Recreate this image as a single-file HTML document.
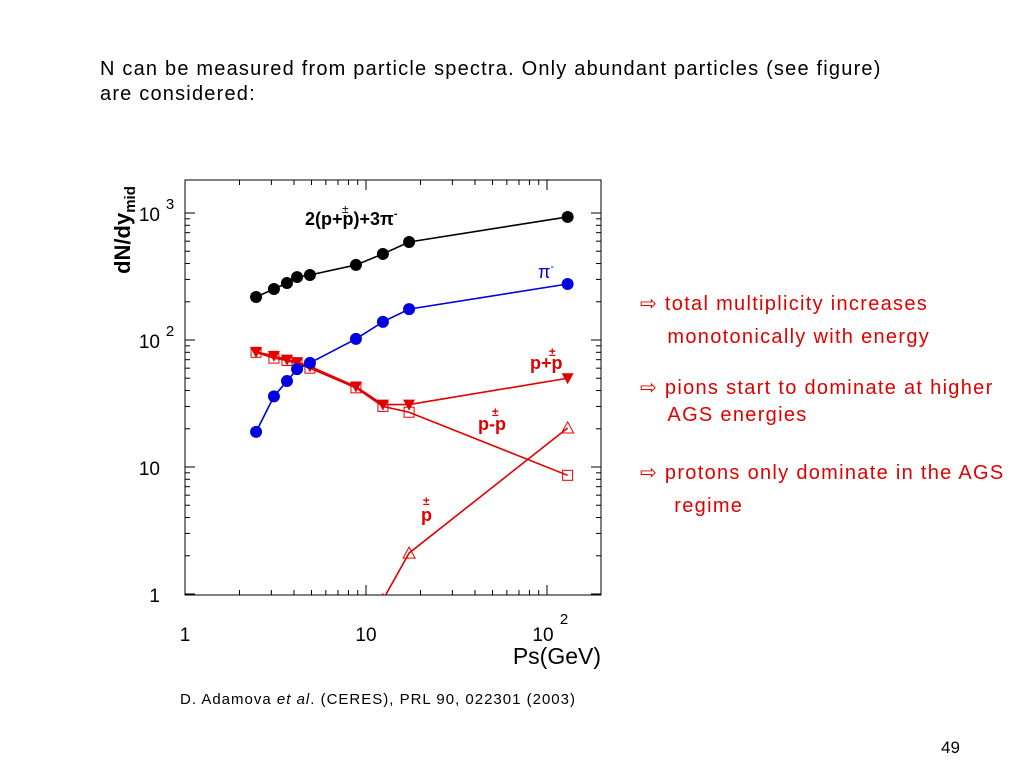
<!DOCTYPE html>
<html><head><meta charset="utf-8"><style>
body{margin:0;width:1024px;height:768px;background:#fff;font-family:"Liberation Sans",sans-serif;overflow:hidden;position:relative}
.t{position:absolute;white-space:nowrap}
.red{color:#e00000;font-size:20px;letter-spacing:1.3px}
</style></head><body>
<div class="t" style="left:100px;top:57px;font-size:20px;letter-spacing:1.2px;line-height:25px">N can be measured from particle spectra. Only abundant particles (see figure)<br>are considered:</div>
<div class="t red" style="left:640px;top:288px;line-height:33px">⇨ total multiplicity increases<br>&nbsp;&nbsp;&nbsp;&nbsp;monotonically with energy</div>
<div class="t red" style="left:640px;top:375px;line-height:27px">⇨ pions start to dominate at higher<br>&nbsp;&nbsp;&nbsp;&nbsp;AGS energies</div>
<div class="t red" style="left:640px;top:457px;line-height:33px">⇨ protons only dominate in the AGS<br>&nbsp;&nbsp;&nbsp;&nbsp;&nbsp;regime</div>
<div class="t" style="left:180px;top:691px;font-size:15px;letter-spacing:1px">D. Adamova <i>et al</i>. (CERES), PRL 90, 022301 (2003)</div>
<div class="t" style="left:941px;top:738px;font-size:17px">49</div>
<svg id="chart" width="1024" height="768" style="position:absolute;left:0;top:0">
<defs><clipPath id="clip"><rect x="185" y="180" width="416" height="415"/></clipPath></defs>
</svg>
<script>
const energies=[2.47,3.1,3.66,4.16,4.9,8.8,12.4,17.3,130];
const total=[218,252,281,313,325,390,476,591,931];
const piMinus=[18.9,36,47.5,59,66,102,139,175,276];
const pPlusPbar=[80.5,75,70,67,62,43,31,31,50];
const pMinusPbar=[80,72,69,65,60,42,30,27,8.6];
const pbarE=[12.4,17.3,130];
const pbarV=[0.9,2.1,20.3];
const xTicks=["1","10","10"];
const yTicks=["1","10","10","10"];
const NS="http://www.w3.org/2000/svg";
const svg=document.getElementById('chart');
const X0=185,XD=181,Y0=594,YD=127;
const xs=v=>X0+Math.log10(v)*XD, ys=v=>Y0-Math.log10(v)*YD;
function mk(t,a,p){const e=document.createElementNS(NS,t);for(const k in a)e.setAttribute(k,a[k]);(p||svg).appendChild(e);return e;}
const frame=mk('rect',{x:185,y:180,width:416,height:415,fill:'none',stroke:'#000','stroke-width':1});


for(let d=0;d<3;d++)for(let m=1;m<10;m++){const v=m*Math.pow(10,d);const x=xs(v);if(x>601)break;const L=m==1?10:5;
mk('line',{x1:x,x2:x,y1:595,y2:595-L,stroke:'#000'});mk('line',{x1:x,x2:x,y1:180,y2:180+L,stroke:'#000'});}
for(let d=0;d<4;d++)for(let m=1;m<10;m++){const v=m*Math.pow(10,d);const y=ys(v);if(y<180)break;const L=m==1?10:5;
mk('line',{x1:185,x2:185+L,y1:y,y2:y,stroke:'#000'});mk('line',{x1:601,x2:601-L,y1:y,y2:y,stroke:'#000'});}
function txt(s,x,y,sz,a,col,name){const t=mk('text',{x:x,y:y,'font-size':sz,'text-anchor':a||'start',fill:col||'#000','font-family':'Liberation Sans, sans-serif'});t.textContent=s;

return t;}
[1,10,100].forEach((v,i)=>{txt(xTicks[i],xs(v)+(i==2?-4:0),641,19,'middle','#000','x-tick-label');if(i==2)txt('2',xs(v)+17,624,15,'middle','#000','x-tick-exp');});
[1,10,100,1000].forEach((v,i)=>{txt(yTicks[i],160,ys(v)+8,19,'end','#000','y-tick-label');if(i>=2)txt(String(i),170,ys(v)-4,15,'middle','#000','y-tick-exp');});
txt('Ps(GeV)',601,664,23,'end','#000','x-axis-title');
const yt=txt('',0,0,22,'middle','#000','y-axis-title');yt.setAttribute('transform','translate(130,230) rotate(-90)');yt.setAttribute('font-weight','bold');
yt.innerHTML='dN/dy<tspan font-size="15" dy="5">mid</tspan>';
const g=mk('g',{'clip-path':'url(#clip)'});
function series(vals,E,col,marker,name){
 const pts=vals.map((v,i)=>xs(E[i])+','+ys(v)).join(' ');
 const pl=mk('polyline',{points:pts,fill:'none',stroke:col,'stroke-width':1.6},g);
 
 
 vals.forEach((v,i)=>{const x=xs(E[i]),y=ys(v);let m;
  if(marker=='circle')m=mk('circle',{cx:x,cy:y,r:6,fill:col},g);
  else if(marker=='tridown')m=mk('polygon',{points:`${x-6},${y-5} ${x+6},${y-5} ${x},${y+6}`,fill:col},g);
  else if(marker=='square')m=mk('rect',{x:x-5,y:y-5,width:10,height:10,fill:'none',stroke:col},g);
  else m=mk('polygon',{points:`${x-6},${y+5} ${x+6},${y+5} ${x},${y-6}`,fill:'none',stroke:col},g);
  
  });
}
series(pMinusPbar,energies,'#e00000','square','p-minus-pbar');
series(pPlusPbar,energies,'#e00000','tridown','p-plus-pbar');
series(piMinus,energies,'#0000e0','circle','pi-minus');
series(total,energies,'#000','circle','total');
series(pbarV,pbarE,'#e00000','triup','pbar');
const l1=txt('',305,225,18,'start','#000','label-total');l1.setAttribute('font-weight','bold');l1.innerHTML='2(p+p)+3π<tspan font-size="11" dy="-8">-</tspan>';
txt('±',342,213,12,'start','#000','label-pm');
const l2=txt('',538,278,18,'start','#0000e0','label-pi-minus');l2.innerHTML='π<tspan font-size="11" dy="-8">-</tspan>';
const b=[];
b.push(txt('±',549,356,12,'start','#e00000','label-pm'));b.push(txt('p+p',530,369,18,'start','#e00000','label-p-plus-pbar'));
b.push(txt('±',492,416,12,'start','#e00000','label-pm'));b.push(txt('p-p',478,430,18,'start','#e00000','label-p-minus-pbar'));
b.push(txt('±',423,505,12,'start','#e00000','label-pm'));b.push(txt('p',421,521,18,'start','#e00000','label-pbar'));
b.forEach(e=>e.setAttribute('font-weight','bold'));
</script>
</body></html>
